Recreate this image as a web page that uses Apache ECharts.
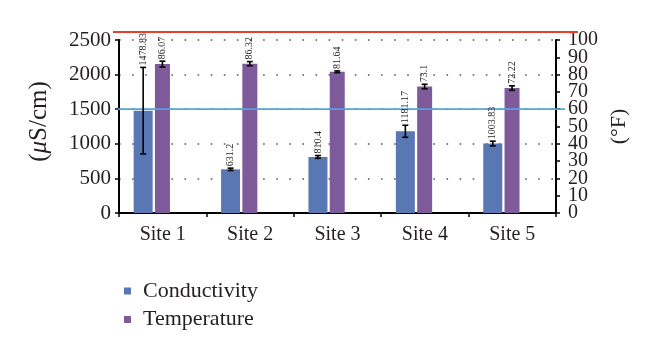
<!DOCTYPE html>
<html><head><meta charset="utf-8">
<script src="https://cdn.jsdelivr.net/npm/echarts@6/dist/echarts.min.js"></script>
<style>html,body{margin:0;padding:0;background:#fff}#c{width:660px;height:356px}</style>
</head><body><div id="c"></div>
<script>
const categories = ['Site 1', 'Site 2', 'Site 3', 'Site 4', 'Site 5'];
const conductivity = [1478.83, 631.2, 810.4, 1181.17, 1003.83];
const conductivityErr = [625, 17, 20, 87, 34];
const temperature = [86.07, 86.32, 81.64, 73.1, 72.22];
const temperatureErr = [1.7, 1.2, 0.5, 1.3, 1.3];
const leftTicks = [0, 500, 1000, 1500, 2000, 2500];
const rightTicks = [0, 10, 20, 30, 40, 50, 60, 70, 80, 90, 100];
const refLines = [2615, 1500];

const FONT = '"Liberation Serif", "DejaVu Serif", serif';
const TXT = '#231f20';
const BW = 19, PW = 15, PADW = 20, GAP = 0.12;
const total = BW + BW * GAP + PW + PW * GAP + PADW;
const start = -total / 2;
const blueOff = start + BW / 2;
const purpleOff = start + BW + BW * GAP + PW / 2;

function errRender(offset, vals, errs) {
  return function (params, api) {
    const i = api.value(0);
    const v = vals[i], e = errs[i];
    const c = api.coord([i, v]);
    const hi = api.coord([i, v + e]);
    const lo = api.coord([i, v - e]);
    const x = c[0] + offset;
    const cap = 3;
    const ls = { stroke: '#000', lineWidth: 1.6 };
    return {
      type: 'group',
      children: [
        { type: 'line', shape: { x1: x, y1: hi[1], x2: x, y2: lo[1] }, style: ls },
        { type: 'line', shape: { x1: x - cap, y1: hi[1], x2: x + cap, y2: hi[1] }, style: ls },
        { type: 'line', shape: { x1: x - cap, y1: lo[1], x2: x + cap, y2: lo[1] }, style: ls },
        { type: 'text', x: x, y: hi[1] - 2, rotation: Math.PI / 2,
          style: { text: String(v), align: 'left', verticalAlign: 'middle',
                   font: '10px ' + FONT, fill: TXT } }
      ]
    };
  };
}

const lineStyles = [
  { color: '#e8402f', width: 2, extL: 6, extR: 22 },
  { color: '#4fa6de', width: 1.8, extL: 1, extR: 9 }
];
function refRender(params, api) {
  const i = params.dataIndex;
  const cs = params.coordSys;
  const y = api.coord([0, api.value(0)])[1];
  const s = lineStyles[i];
  return {
    type: 'line',
    shape: { x1: cs.x - s.extL, y1: y, x2: cs.x + cs.width + s.extR, y2: y },
    style: { stroke: s.color, lineWidth: s.width }
  };
}

function rightLabelRender(params, api) {
  const cs = params.coordSys;
  const v = api.value(0);
  const y = api.coord([0, v])[1];
  return {
    type: 'text', x: cs.x + cs.width + 12, y: y,
    style: { text: String(v), align: 'left', verticalAlign: 'middle', font: '20px ' + FONT, fill: TXT }
  };
}

const chart = echarts.init(document.getElementById('c'), null, { renderer: 'canvas' });
chart.setOption({
  animation: false,
  backgroundColor: '#fff',
  grid: { left: 119, right: 104, top: 40, bottom: 143 },
  legend: {
    data: ['Conductivity', 'Temperature'],
    orient: 'vertical', left: 119, top: 275,
    itemWidth: 7, itemHeight: 7, itemGap: 6.5,
    icon: 'rect',
    textStyle: { fontFamily: FONT, fontSize: 22, color: TXT, lineHeight: 22, padding: [0, 0, 0, 7] }
  },
  xAxis: {
    type: 'category', data: categories,
    axisLine: { lineStyle: { color: '#000', width: 2 } },
    axisTick: { show: true, length: 4, lineStyle: { color: '#000', width: 1.5 } },
    axisLabel: { fontFamily: FONT, fontSize: 20, color: TXT, margin: 12 }
  },
  yAxis: [
    {
      type: 'value', min: leftTicks[0], max: leftTicks[leftTicks.length - 1], interval: leftTicks[1] - leftTicks[0],
      name: '({i|μ}S/cm)', nameLocation: 'middle', nameGap: 67, nameRotate: 90,
      nameTextStyle: { fontFamily: FONT, fontSize: 25, color: TXT, padding: [0, 0, 0, 10],
                       rich: { i: { fontFamily: FONT, fontSize: 25, fontStyle: 'italic', color: TXT } } },
      axisLine: { show: true, lineStyle: { color: '#000', width: 2 } },
      axisTick: { show: true, length: 4, lineStyle: { color: '#000', width: 1.5 } },
      axisLabel: { fontFamily: FONT, fontSize: 21, color: TXT, margin: 8, formatter: v => String(v),
                   showMinLabel: true, showMaxLabel: true },
      splitLine: { show: true, lineStyle: { color: '#555', width: 1.6, type: [1.6, 11.5] } }
    },
    {
      type: 'value', min: rightTicks[0], max: rightTicks[rightTicks.length - 1], interval: rightTicks[1] - rightTicks[0],
      position: 'right',
      name: '(°F)', nameLocation: 'middle', nameGap: 52, nameRotate: 90,
      nameTextStyle: { fontFamily: FONT, fontSize: 22, color: TXT },
      axisLine: { show: true, lineStyle: { color: '#000', width: 2 } },
      axisTick: { show: true, length: 4, lineStyle: { color: '#000', width: 1.5 } },
      axisLabel: { show: false },
      splitLine: { show: false }
    }
  ],
  series: [
    {
      name: 'Conductivity', type: 'bar', yAxisIndex: 0, data: conductivity,
      barWidth: BW, barGap: (GAP * 100) + '%',
      itemStyle: { color: '#5977b3' }
    },
    {
      name: 'Temperature', type: 'bar', yAxisIndex: 1, data: temperature,
      barWidth: PW, barGap: (GAP * 100) + '%',
      itemStyle: { color: '#7e5a9b' }
    },
    { name: 'pad', type: 'bar', yAxisIndex: 0, data: [], barWidth: PADW },
    {
      name: 'refLines', type: 'custom', yAxisIndex: 0, clip: false, z: 4,
      data: refLines.map(v => [v]),
      encode: { y: 0 },
      renderItem: refRender
    },
    {
      name: 'rightLabels', type: 'custom', yAxisIndex: 1, clip: false, silent: true,
      data: rightTicks.map(v => [v]),
      encode: { y: 0 },
      renderItem: rightLabelRender
    },
    {
      name: 'condErr', type: 'custom', yAxisIndex: 0, clip: false, z: 5,
      data: categories.map((c, i) => [i]),
      renderItem: errRender(blueOff, conductivity, conductivityErr)
    },
    {
      name: 'tempErr', type: 'custom', yAxisIndex: 1, clip: false, z: 5,
      data: categories.map((c, i) => [i]),
      renderItem: errRender(purpleOff, temperature, temperatureErr)
    }
  ]
});
</script></body></html>
